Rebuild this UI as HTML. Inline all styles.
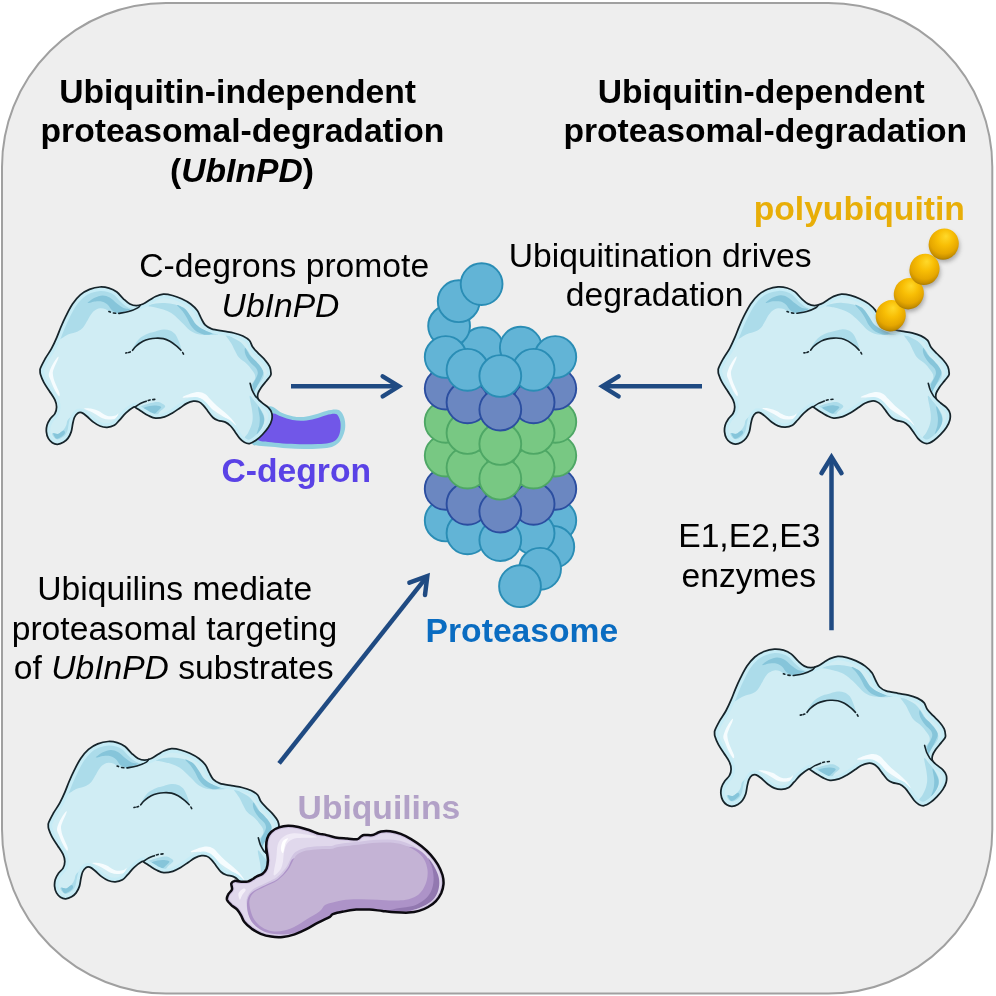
<!DOCTYPE html><html><head><meta charset="utf-8"><title>Graphical abstract</title>
<style>html,body{margin:0;padding:0;background:#fff;overflow:hidden;}svg{display:block;font-family:"Liberation Sans",sans-serif;font-size:33.65px;}</style></head><body>
<svg width="996" height="996" viewBox="0 0 996 996">
<defs><clipPath id="blobclip"><path d="M714.6,733.0C714.6,731.9 714.2,732.1 715.0,730.1C715.8,728.1 717.8,724.2 719.6,720.9C721.5,717.6 724.2,714.1 726.1,710.5C728.0,706.9 729.8,702.9 731.3,699.4C732.8,695.9 733.7,693.2 735.2,689.6C736.7,686.0 738.5,681.8 740.5,677.9C742.5,674.0 744.6,669.6 747.0,666.1C749.4,662.6 752.0,659.4 754.8,657.0C757.6,654.6 760.7,652.8 764.0,651.5C767.3,650.2 771.1,649.3 774.4,649.1C777.6,648.9 780.7,649.4 783.5,650.2C786.3,651.0 789.0,652.3 791.4,654.1C793.8,655.9 795.7,658.9 797.9,660.9C800.1,662.9 802.2,665.0 804.4,666.1C806.6,667.2 808.7,667.7 810.9,667.7C813.1,667.7 815.3,667.0 817.5,666.1C819.7,665.2 821.9,663.5 824.0,662.2C826.1,661.0 827.7,659.6 830.0,658.6C832.3,657.6 835.0,656.5 837.8,656.3C840.6,656.1 844.0,656.8 847.0,657.6C850.0,658.4 853.1,659.5 856.1,660.9C859.1,662.3 862.6,664.1 865.2,666.1C867.8,668.1 870.0,670.2 871.8,672.6C873.5,675.0 874.4,678.1 875.7,680.5C877.0,682.9 877.9,685.3 879.6,687.0C881.3,688.7 883.1,689.9 886.1,690.9C889.1,691.9 894.2,692.6 897.9,693.3C901.6,694.0 905.0,694.3 908.3,695.1C911.5,695.9 914.8,696.9 917.4,698.1C920.0,699.4 922.4,700.8 924.0,702.6C925.6,704.5 925.7,707.0 927.2,709.2C928.7,711.4 931.0,713.5 933.1,715.7C935.2,717.9 937.8,720.0 939.6,722.2C941.5,724.4 943.2,726.6 944.2,728.8C945.2,731.0 945.4,733.8 945.5,735.3C945.6,736.8 945.7,736.7 944.9,738.0C944.1,739.3 942.4,741.2 940.9,743.1C939.4,745.0 937.1,747.5 935.7,749.6C934.3,751.7 933.0,753.6 932.5,755.5C932.0,757.4 931.8,759.1 932.5,760.7C933.2,762.3 935.3,763.7 937.0,765.2C938.7,766.7 941.4,768.2 942.9,769.8C944.4,771.4 945.7,772.9 946.2,775.0C946.8,777.1 946.8,779.8 946.2,782.2C945.7,784.6 944.4,787.0 942.9,789.4C941.4,791.8 939.1,794.4 937.0,796.6C934.9,798.8 932.7,800.9 930.5,802.4C928.3,803.9 926.0,805.4 924.0,805.7C922.0,806.0 920.4,805.3 918.8,804.4C917.2,803.5 915.7,802.2 914.2,800.5C912.7,798.8 911.1,796.1 909.6,794.0C908.1,791.9 906.7,789.7 905.1,788.1C903.5,786.5 901.9,785.1 899.8,784.2C897.7,783.3 894.8,783.4 892.7,782.6C890.6,781.8 889.1,781.2 887.4,779.6C885.6,778.0 883.8,775.2 882.2,773.1C880.6,771.0 879.1,768.7 877.6,767.2C876.1,765.7 874.7,764.5 873.1,763.9C871.5,763.2 869.9,763.0 867.9,763.3C865.9,763.6 863.5,764.4 861.3,765.5C859.1,766.6 857.2,768.2 854.8,769.8C852.4,771.4 849.6,773.5 847.0,775.0C844.4,776.5 841.9,778.0 839.1,778.9C836.3,779.8 832.7,780.5 830.0,780.3C827.3,780.1 825.0,778.7 822.7,777.6C820.4,776.5 818.3,775.0 816.2,773.7C814.1,772.4 811.6,770.5 810.3,769.8C809.0,769.0 809.9,768.3 808.3,769.2C806.7,770.1 802.9,772.8 800.5,775.0C798.1,777.2 796.0,780.1 794.0,782.2C792.0,784.3 790.9,786.2 788.8,787.4C786.7,788.6 784.0,789.3 781.6,789.4C779.2,789.5 776.7,789.0 774.4,788.1C772.1,787.2 770.1,785.8 767.9,784.2C765.7,782.6 763.3,779.9 761.3,778.3C759.3,776.7 757.6,775.3 756.1,774.8C754.6,774.3 753.4,774.5 752.2,775.3C751.0,776.1 749.7,777.8 748.9,779.6C748.1,781.4 747.7,783.7 747.2,786.1C746.7,788.5 746.5,791.6 745.7,794.0C744.9,796.4 743.7,798.8 742.4,800.5C741.1,802.2 739.6,803.4 737.9,804.4C736.2,805.4 733.9,806.3 732.0,806.4C730.1,806.5 728.3,805.8 726.8,804.8C725.3,803.8 723.8,802.3 722.8,800.5C721.8,798.7 721.1,796.2 720.9,794.0C720.7,791.8 720.9,789.6 721.5,787.4C722.1,785.2 723.5,782.8 724.8,780.9C726.1,779.0 728.3,777.7 729.4,775.7C730.5,773.8 731.1,771.5 731.1,769.2C731.1,766.9 730.6,764.6 729.4,762.0C728.2,759.4 726.0,756.4 724.1,753.5C722.2,750.6 719.8,747.2 718.3,744.4C716.8,741.6 715.6,738.4 715.0,736.5C714.4,734.6 714.6,734.1 714.6,733.0Z"/></clipPath><g id="blob"><path d="M714.6,733.0C714.6,731.9 714.2,732.1 715.0,730.1C715.8,728.1 717.8,724.2 719.6,720.9C721.5,717.6 724.2,714.1 726.1,710.5C728.0,706.9 729.8,702.9 731.3,699.4C732.8,695.9 733.7,693.2 735.2,689.6C736.7,686.0 738.5,681.8 740.5,677.9C742.5,674.0 744.6,669.6 747.0,666.1C749.4,662.6 752.0,659.4 754.8,657.0C757.6,654.6 760.7,652.8 764.0,651.5C767.3,650.2 771.1,649.3 774.4,649.1C777.6,648.9 780.7,649.4 783.5,650.2C786.3,651.0 789.0,652.3 791.4,654.1C793.8,655.9 795.7,658.9 797.9,660.9C800.1,662.9 802.2,665.0 804.4,666.1C806.6,667.2 808.7,667.7 810.9,667.7C813.1,667.7 815.3,667.0 817.5,666.1C819.7,665.2 821.9,663.5 824.0,662.2C826.1,661.0 827.7,659.6 830.0,658.6C832.3,657.6 835.0,656.5 837.8,656.3C840.6,656.1 844.0,656.8 847.0,657.6C850.0,658.4 853.1,659.5 856.1,660.9C859.1,662.3 862.6,664.1 865.2,666.1C867.8,668.1 870.0,670.2 871.8,672.6C873.5,675.0 874.4,678.1 875.7,680.5C877.0,682.9 877.9,685.3 879.6,687.0C881.3,688.7 883.1,689.9 886.1,690.9C889.1,691.9 894.2,692.6 897.9,693.3C901.6,694.0 905.0,694.3 908.3,695.1C911.5,695.9 914.8,696.9 917.4,698.1C920.0,699.4 922.4,700.8 924.0,702.6C925.6,704.5 925.7,707.0 927.2,709.2C928.7,711.4 931.0,713.5 933.1,715.7C935.2,717.9 937.8,720.0 939.6,722.2C941.5,724.4 943.2,726.6 944.2,728.8C945.2,731.0 945.4,733.8 945.5,735.3C945.6,736.8 945.7,736.7 944.9,738.0C944.1,739.3 942.4,741.2 940.9,743.1C939.4,745.0 937.1,747.5 935.7,749.6C934.3,751.7 933.0,753.6 932.5,755.5C932.0,757.4 931.8,759.1 932.5,760.7C933.2,762.3 935.3,763.7 937.0,765.2C938.7,766.7 941.4,768.2 942.9,769.8C944.4,771.4 945.7,772.9 946.2,775.0C946.8,777.1 946.8,779.8 946.2,782.2C945.7,784.6 944.4,787.0 942.9,789.4C941.4,791.8 939.1,794.4 937.0,796.6C934.9,798.8 932.7,800.9 930.5,802.4C928.3,803.9 926.0,805.4 924.0,805.7C922.0,806.0 920.4,805.3 918.8,804.4C917.2,803.5 915.7,802.2 914.2,800.5C912.7,798.8 911.1,796.1 909.6,794.0C908.1,791.9 906.7,789.7 905.1,788.1C903.5,786.5 901.9,785.1 899.8,784.2C897.7,783.3 894.8,783.4 892.7,782.6C890.6,781.8 889.1,781.2 887.4,779.6C885.6,778.0 883.8,775.2 882.2,773.1C880.6,771.0 879.1,768.7 877.6,767.2C876.1,765.7 874.7,764.5 873.1,763.9C871.5,763.2 869.9,763.0 867.9,763.3C865.9,763.6 863.5,764.4 861.3,765.5C859.1,766.6 857.2,768.2 854.8,769.8C852.4,771.4 849.6,773.5 847.0,775.0C844.4,776.5 841.9,778.0 839.1,778.9C836.3,779.8 832.7,780.5 830.0,780.3C827.3,780.1 825.0,778.7 822.7,777.6C820.4,776.5 818.3,775.0 816.2,773.7C814.1,772.4 811.6,770.5 810.3,769.8C809.0,769.0 809.9,768.3 808.3,769.2C806.7,770.1 802.9,772.8 800.5,775.0C798.1,777.2 796.0,780.1 794.0,782.2C792.0,784.3 790.9,786.2 788.8,787.4C786.7,788.6 784.0,789.3 781.6,789.4C779.2,789.5 776.7,789.0 774.4,788.1C772.1,787.2 770.1,785.8 767.9,784.2C765.7,782.6 763.3,779.9 761.3,778.3C759.3,776.7 757.6,775.3 756.1,774.8C754.6,774.3 753.4,774.5 752.2,775.3C751.0,776.1 749.7,777.8 748.9,779.6C748.1,781.4 747.7,783.7 747.2,786.1C746.7,788.5 746.5,791.6 745.7,794.0C744.9,796.4 743.7,798.8 742.4,800.5C741.1,802.2 739.6,803.4 737.9,804.4C736.2,805.4 733.9,806.3 732.0,806.4C730.1,806.5 728.3,805.8 726.8,804.8C725.3,803.8 723.8,802.3 722.8,800.5C721.8,798.7 721.1,796.2 720.9,794.0C720.7,791.8 720.9,789.6 721.5,787.4C722.1,785.2 723.5,782.8 724.8,780.9C726.1,779.0 728.3,777.7 729.4,775.7C730.5,773.8 731.1,771.5 731.1,769.2C731.1,766.9 730.6,764.6 729.4,762.0C728.2,759.4 726.0,756.4 724.1,753.5C722.2,750.6 719.8,747.2 718.3,744.4C716.8,741.6 715.6,738.4 715.0,736.5C714.4,734.6 714.6,734.1 714.6,733.0Z" fill="#d0edf4"/><g clip-path="url(#blobclip)"><path d="M733.3,701.3C732.3,700.2 735.7,693.5 737.2,689.6C738.7,685.7 740.5,681.7 742.4,677.9C744.4,674.0 746.6,670.1 748.9,666.8C751.3,663.4 754.1,659.9 756.8,657.6C759.5,655.3 762.2,653.9 765.3,652.8C768.3,651.6 772.0,650.9 775.1,650.7C778.1,650.5 780.8,650.9 783.5,651.7C786.3,652.6 789.0,653.9 791.4,655.7C793.8,657.4 795.7,660.4 797.9,662.4C800.1,664.5 802.2,666.5 804.4,667.7C806.6,668.8 809.2,669.2 810.9,669.2C812.7,669.3 814.6,667.9 814.9,668.1C815.1,668.2 814.2,669.3 812.2,670.3C810.3,671.3 806.3,673.2 803.1,674.2C800.0,675.2 796.4,676.0 793.3,676.0C790.3,676.0 787.0,675.0 784.8,674.2C782.7,673.4 782.0,672.0 780.3,671.3C778.5,670.7 776.2,670.2 774.4,670.4C772.5,670.6 770.7,671.6 769.2,672.6C767.7,673.7 766.6,675.0 765.3,676.8C764.0,678.7 762.7,681.5 761.3,683.7C760.0,685.9 759.0,688.2 757.4,689.9C755.9,691.5 754.6,692.4 752.2,693.5C749.8,694.6 746.2,695.1 743.1,696.4C739.9,697.7 734.3,702.5 733.3,701.3Z" fill="#acdcea"/><path d="M762.0,665.1C761.9,664.5 766.7,661.1 769.2,659.8C771.7,658.6 774.5,657.5 777.0,657.5C779.5,657.4 781.8,658.3 784.2,659.6C786.6,660.9 789.1,663.7 791.4,665.5C793.7,667.2 795.7,669.0 797.9,670.0C800.1,671.0 804.2,670.7 804.4,671.3C804.6,671.9 801.0,673.1 799.2,673.7C797.3,674.3 795.4,675.2 793.3,675.0C791.3,674.8 788.6,674.0 786.8,672.6C784.9,671.3 783.9,668.2 782.2,666.8C780.6,665.3 779.1,664.3 777.0,663.8C774.9,663.2 772.3,663.3 769.8,663.5C767.3,663.7 762.1,665.7 762.0,665.1Z" fill="#86c5da"/><path d="M822.2,668.1C822.2,667.4 827.2,666.1 830.0,665.6C832.8,665.1 835.9,664.9 839.1,665.1C842.4,665.2 846.4,665.7 849.6,666.6C852.7,667.6 855.6,668.8 858.1,670.7C860.5,672.6 862.3,675.6 864.2,678.1C866.0,680.7 867.2,683.8 869.2,685.9C871.1,688.1 872.9,689.7 875.7,691.2C878.5,692.6 883.3,693.9 886.1,694.8C889.0,695.7 893.3,696.0 892.7,696.4C892.0,696.8 885.7,697.2 882.2,697.2C878.7,697.1 874.8,697.0 871.8,696.1C868.7,695.3 866.3,693.9 863.9,692.2C861.5,690.5 859.4,687.6 857.4,685.7C855.5,683.7 854.1,682.2 852.2,680.5C850.2,678.7 848.1,676.7 845.7,675.2C843.3,673.8 840.4,672.5 837.8,671.6C835.2,670.6 832.6,670.1 830.0,669.5C827.4,668.9 822.2,668.7 822.2,668.1Z" fill="#acdcea"/><path d="M851.5,667.1C852.0,666.8 857.4,669.1 859.8,671.1C862.1,673.0 863.7,676.3 865.5,678.9C867.3,681.5 868.5,684.6 870.7,686.7C872.9,688.9 875.8,690.6 878.6,691.9C881.3,693.3 886.6,694.0 887.0,694.8C887.5,695.6 883.7,697.0 881.2,696.9C878.7,696.8 874.6,695.6 872.0,694.0C869.4,692.5 867.3,690.1 865.5,687.8C863.7,685.4 862.8,682.4 861.3,679.9C859.9,677.5 858.5,675.3 856.9,673.2C855.3,671.0 851.1,667.5 851.5,667.1Z" fill="#86c5da"/><path d="M806.4,713.1C806.3,712.6 808.8,707.5 810.3,705.3C811.8,703.0 813.4,701.0 815.5,699.4C817.6,697.8 820.3,696.5 822.7,695.5C825.1,694.5 827.5,694.2 830.0,693.5C832.5,692.9 835.4,691.7 837.8,691.6C840.2,691.4 842.4,691.7 844.4,692.5C846.3,693.2 848.1,694.4 849.6,696.1C851.0,697.8 852.0,700.1 853.0,702.7C854.0,705.2 855.9,710.3 855.6,711.1C855.2,712.0 852.8,709.2 850.9,707.9C849.0,706.6 846.5,704.5 844.4,703.3C842.2,702.1 840.2,701.2 837.8,700.7C835.4,700.2 832.5,700.2 830.0,700.3C827.5,700.4 824.9,700.8 822.7,701.3C820.5,701.9 818.8,702.6 816.8,703.7C814.9,704.8 812.7,706.6 810.9,708.1C809.2,709.7 806.5,713.6 806.4,713.1Z" fill="#acdcea"/><path d="M899.8,696.4C900.2,695.6 905.7,698.9 908.3,700.3C910.9,701.7 913.2,702.6 915.5,704.6C917.8,706.6 920.0,709.7 922.0,712.4C924.0,715.1 925.2,718.0 927.2,720.7C929.2,723.4 932.1,726.5 933.8,728.5C935.5,730.5 936.8,731.4 937.5,733.0C938.2,734.6 938.5,736.3 938.2,738.0C938.0,739.7 936.9,741.3 936.0,743.0C935.1,744.7 933.9,746.3 933.0,748.0C932.1,749.7 931.0,751.3 930.5,753.0C930.0,754.7 930.4,758.3 929.8,758.1C929.2,757.9 927.8,753.8 927.0,752.0C926.2,750.2 925.0,748.7 925.0,747.5C925.0,746.3 926.2,746.1 927.0,745.0C927.8,743.9 929.1,742.4 929.5,741.0C929.9,739.6 929.9,738.1 929.3,736.5C928.7,734.9 927.3,733.2 926.0,731.5C924.7,729.8 923.5,728.0 921.4,726.0C919.3,724.0 915.5,721.8 913.5,719.6C911.5,717.5 910.9,715.5 909.6,713.1C908.3,710.7 907.3,708.1 905.7,705.3C904.1,702.5 899.4,697.2 899.8,696.4Z" fill="#acdcea"/><path d="M919.8,710.2C920.6,710.6 922.4,714.8 924.2,717.0C926.0,719.2 928.8,721.3 930.8,723.5C932.8,725.7 934.9,728.0 936.0,730.0C937.1,732.0 937.9,733.2 937.7,735.2C937.6,737.2 936.2,739.3 935.1,741.7C934.0,744.1 932.1,747.2 931.2,749.6C930.3,752.0 930.3,755.7 929.8,756.1C929.2,756.5 928.3,753.7 927.9,752.2C927.5,750.7 926.8,749.0 927.2,747.0C927.6,745.0 929.6,742.4 930.5,740.4C931.4,738.4 932.2,736.9 932.3,735.2C932.3,733.6 932.0,732.2 930.8,730.5C929.6,728.8 926.9,726.8 925.3,725.0C923.7,723.2 922.4,721.2 921.4,719.5C920.4,717.8 919.7,716.0 919.4,714.5C919.1,713.0 919.0,709.8 919.8,710.2Z" fill="#86c5da"/><path d="M924.2,758.1C924.8,756.9 927.7,761.6 929.5,763.7C931.2,765.7 933.2,768.0 934.7,770.5C936.2,772.9 938.0,775.7 938.6,778.3C939.2,780.9 938.9,783.5 938.1,786.1C937.2,788.8 935.2,791.8 933.4,794.2C931.5,796.7 928.8,799.2 926.8,800.7C924.8,802.3 922.7,803.4 921.4,803.4C920.0,803.3 918.6,801.8 918.8,800.5C918.9,799.1 921.2,797.4 922.4,795.3C923.6,793.1 925.1,790.0 925.9,787.4C926.7,784.8 927.2,782.4 927.2,779.6C927.3,776.8 926.8,774.1 926.3,770.5C925.8,766.9 923.7,759.2 924.2,758.1Z" fill="#acdcea"/><path d="M932.6,768.6C933.1,768.0 936.0,773.4 937.0,775.7C938.1,777.9 938.8,779.9 938.7,782.2C938.7,784.5 937.9,786.9 936.6,789.3C935.4,791.6 931.8,796.6 931.3,796.3C930.8,796.0 933.3,790.2 933.8,787.4C934.2,784.6 934.4,782.7 934.2,779.6C934.0,776.5 932.1,769.3 932.6,768.6Z" fill="#86c5da"/><path d="M810.3,770.2C810.5,769.2 815.0,768.4 817.5,767.6C820.0,766.8 822.9,765.8 825.3,765.2C827.7,764.7 830.1,764.2 831.8,764.2C833.6,764.2 834.4,764.5 835.7,765.2C837.0,766.0 839.9,767.2 839.7,768.6C839.4,770.0 836.0,772.1 834.4,773.7C832.8,775.4 832.0,778.1 830.0,778.6C828.0,779.1 825.0,777.6 822.7,776.7C820.4,775.9 818.2,774.7 816.2,773.6C814.1,772.5 810.1,771.2 810.3,770.2Z" fill="#acdcea"/><path d="M817.5,770.7C817.6,769.6 821.8,768.6 824.0,768.1C826.2,767.6 828.6,767.4 830.5,767.6C832.5,767.8 835.5,768.1 835.7,769.2C836.0,770.2 833.0,772.6 831.8,773.7C830.6,774.9 830.0,775.7 828.6,775.9C827.2,776.1 825.2,775.8 823.3,774.9C821.5,774.0 817.4,771.9 817.5,770.7Z" fill="#86c5da"/><path d="M742.0,782.5C742.9,781.1 745.4,778.5 745.9,779.3C746.4,780.2 745.6,785.0 745.0,787.4C744.4,789.9 743.7,792.2 742.4,794.2C741.1,796.2 739.0,798.2 737.2,799.4C735.4,800.7 733.2,801.7 731.6,801.5C730.0,801.4 728.5,799.4 727.7,798.4C726.9,797.3 726.1,795.7 726.9,795.3C727.7,794.8 730.8,796.5 732.6,795.9C734.5,795.4 736.5,793.4 737.9,792.0C739.2,790.6 740.0,789.0 740.7,787.4C741.4,785.8 741.2,783.8 742.0,782.5Z" fill="#acdcea"/><path d="M727.7,795.3C728.0,794.5 730.9,796.5 732.6,796.0C734.3,795.6 736.7,792.8 737.9,792.7C739.0,792.5 739.8,794.2 739.4,795.3C739.0,796.3 736.9,798.3 735.5,799.2C734.1,800.1 732.1,801.4 730.8,800.7C729.5,800.1 727.4,796.0 727.7,795.3Z" fill="#86c5da"/><path d="M732.4,719.0C731.6,719.6 729.4,722.7 728.1,724.8C726.8,726.9 725.6,729.4 724.8,731.4C724.0,733.4 723.3,735.3 723.3,737.0C723.3,738.7 723.9,739.4 724.8,741.7C725.7,744.0 727.3,748.2 728.7,750.9C730.1,753.6 732.4,757.5 733.3,758.1C734.2,758.8 734.5,757.1 733.9,754.8C733.2,752.5 730.5,747.4 729.4,744.4C728.3,741.4 727.6,738.7 727.4,736.5C727.2,734.3 727.2,734.0 728.1,731.4C729.0,728.8 731.9,723.0 732.6,720.9C733.3,718.8 733.1,718.4 732.4,719.0Z" fill="#f6fcfe"/><path d="M758.7,770.5C759.0,770.1 762.9,770.3 765.3,770.7C767.7,771.2 770.9,772.1 773.1,773.1C775.3,774.0 776.6,775.5 778.3,776.3C780.1,777.2 781.6,778.1 783.5,778.3C785.5,778.5 788.5,778.1 790.1,777.6C791.6,777.2 792.9,775.0 792.9,775.4C793.0,775.9 791.9,779.3 790.3,780.4C788.8,781.4 785.8,781.7 783.5,781.7C781.3,781.7 779.2,781.3 777.0,780.4C774.8,779.5 772.7,777.7 770.5,776.5C768.3,775.2 765.9,774.1 764.0,773.1C762.0,772.1 758.5,770.9 758.7,770.5Z" fill="#f6fcfe"/><path d="M857.1,759.5C856.9,758.8 862.6,756.5 865.2,755.6C867.9,754.7 870.7,754.1 873.1,754.1C875.5,754.2 877.6,754.9 879.6,756.1C881.6,757.3 882.9,759.4 884.8,761.3C886.8,763.3 889.0,765.7 891.3,767.9C893.7,770.0 896.7,772.2 899.2,774.4C901.6,776.6 904.0,778.7 906.0,780.9C907.9,783.1 911.1,787.5 910.7,787.7C910.2,787.9 905.7,784.0 903.1,782.2C900.5,780.4 897.9,778.7 895.3,777.0C892.7,775.2 889.8,773.7 887.4,771.8C885.0,769.9 883.1,767.3 880.9,765.5C878.7,763.7 876.8,761.8 874.4,760.8C872.0,759.8 869.4,759.7 866.5,759.5C863.7,759.3 857.4,760.2 857.1,759.5Z" fill="#f6fcfe"/><path d="M714.6,733.0C714.6,731.9 714.2,732.1 715.0,730.1C715.8,728.1 717.8,724.2 719.6,720.9C721.5,717.6 724.2,714.1 726.1,710.5C728.0,706.9 729.8,702.9 731.3,699.4C732.8,695.9 733.7,693.2 735.2,689.6C736.7,686.0 738.5,681.8 740.5,677.9C742.5,674.0 744.6,669.6 747.0,666.1C749.4,662.6 752.0,659.4 754.8,657.0C757.6,654.6 760.7,652.8 764.0,651.5C767.3,650.2 771.1,649.3 774.4,649.1C777.6,648.9 780.7,649.4 783.5,650.2C786.3,651.0 789.0,652.3 791.4,654.1C793.8,655.9 795.7,658.9 797.9,660.9C800.1,662.9 802.2,665.0 804.4,666.1C806.6,667.2 808.7,667.7 810.9,667.7C813.1,667.7 815.3,667.0 817.5,666.1C819.7,665.2 821.9,663.5 824.0,662.2C826.1,661.0 827.7,659.6 830.0,658.6C832.3,657.6 835.0,656.5 837.8,656.3C840.6,656.1 844.0,656.8 847.0,657.6C850.0,658.4 853.1,659.5 856.1,660.9C859.1,662.3 862.6,664.1 865.2,666.1C867.8,668.1 870.0,670.2 871.8,672.6C873.5,675.0 874.4,678.1 875.7,680.5C877.0,682.9 877.9,685.3 879.6,687.0C881.3,688.7 883.1,689.9 886.1,690.9C889.1,691.9 894.2,692.6 897.9,693.3C901.6,694.0 905.0,694.3 908.3,695.1C911.5,695.9 914.8,696.9 917.4,698.1C920.0,699.4 922.4,700.8 924.0,702.6C925.6,704.5 925.7,707.0 927.2,709.2C928.7,711.4 931.0,713.5 933.1,715.7C935.2,717.9 937.8,720.0 939.6,722.2C941.5,724.4 943.2,726.6 944.2,728.8C945.2,731.0 945.4,733.8 945.5,735.3C945.6,736.8 945.7,736.7 944.9,738.0C944.1,739.3 942.4,741.2 940.9,743.1C939.4,745.0 937.1,747.5 935.7,749.6C934.3,751.7 933.0,753.6 932.5,755.5C932.0,757.4 931.8,759.1 932.5,760.7C933.2,762.3 935.3,763.7 937.0,765.2C938.7,766.7 941.4,768.2 942.9,769.8C944.4,771.4 945.7,772.9 946.2,775.0C946.8,777.1 946.8,779.8 946.2,782.2C945.7,784.6 944.4,787.0 942.9,789.4C941.4,791.8 939.1,794.4 937.0,796.6C934.9,798.8 932.7,800.9 930.5,802.4C928.3,803.9 926.0,805.4 924.0,805.7C922.0,806.0 920.4,805.3 918.8,804.4C917.2,803.5 915.7,802.2 914.2,800.5C912.7,798.8 911.1,796.1 909.6,794.0C908.1,791.9 906.7,789.7 905.1,788.1C903.5,786.5 901.9,785.1 899.8,784.2C897.7,783.3 894.8,783.4 892.7,782.6C890.6,781.8 889.1,781.2 887.4,779.6C885.6,778.0 883.8,775.2 882.2,773.1C880.6,771.0 879.1,768.7 877.6,767.2C876.1,765.7 874.7,764.5 873.1,763.9C871.5,763.2 869.9,763.0 867.9,763.3C865.9,763.6 863.5,764.4 861.3,765.5C859.1,766.6 857.2,768.2 854.8,769.8C852.4,771.4 849.6,773.5 847.0,775.0C844.4,776.5 841.9,778.0 839.1,778.9C836.3,779.8 832.7,780.5 830.0,780.3C827.3,780.1 825.0,778.7 822.7,777.6C820.4,776.5 818.3,775.0 816.2,773.7C814.1,772.4 811.6,770.5 810.3,769.8C809.0,769.0 809.9,768.3 808.3,769.2C806.7,770.1 802.9,772.8 800.5,775.0C798.1,777.2 796.0,780.1 794.0,782.2C792.0,784.3 790.9,786.2 788.8,787.4C786.7,788.6 784.0,789.3 781.6,789.4C779.2,789.5 776.7,789.0 774.4,788.1C772.1,787.2 770.1,785.8 767.9,784.2C765.7,782.6 763.3,779.9 761.3,778.3C759.3,776.7 757.6,775.3 756.1,774.8C754.6,774.3 753.4,774.5 752.2,775.3C751.0,776.1 749.7,777.8 748.9,779.6C748.1,781.4 747.7,783.7 747.2,786.1C746.7,788.5 746.5,791.6 745.7,794.0C744.9,796.4 743.7,798.8 742.4,800.5C741.1,802.2 739.6,803.4 737.9,804.4C736.2,805.4 733.9,806.3 732.0,806.4C730.1,806.5 728.3,805.8 726.8,804.8C725.3,803.8 723.8,802.3 722.8,800.5C721.8,798.7 721.1,796.2 720.9,794.0C720.7,791.8 720.9,789.6 721.5,787.4C722.1,785.2 723.5,782.8 724.8,780.9C726.1,779.0 728.3,777.7 729.4,775.7C730.5,773.8 731.1,771.5 731.1,769.2C731.1,766.9 730.6,764.6 729.4,762.0C728.2,759.4 726.0,756.4 724.1,753.5C722.2,750.6 719.8,747.2 718.3,744.4C716.8,741.6 715.6,738.4 715.0,736.5C714.4,734.6 714.6,734.1 714.6,733.0Z" fill="none" stroke="#c6ecf6" stroke-width="8"/></g><path d="M714.6,733.0C714.6,731.9 714.2,732.1 715.0,730.1C715.8,728.1 717.8,724.2 719.6,720.9C721.5,717.6 724.2,714.1 726.1,710.5C728.0,706.9 729.8,702.9 731.3,699.4C732.8,695.9 733.7,693.2 735.2,689.6C736.7,686.0 738.5,681.8 740.5,677.9C742.5,674.0 744.6,669.6 747.0,666.1C749.4,662.6 752.0,659.4 754.8,657.0C757.6,654.6 760.7,652.8 764.0,651.5C767.3,650.2 771.1,649.3 774.4,649.1C777.6,648.9 780.7,649.4 783.5,650.2C786.3,651.0 789.0,652.3 791.4,654.1C793.8,655.9 795.7,658.9 797.9,660.9C800.1,662.9 802.2,665.0 804.4,666.1C806.6,667.2 808.7,667.7 810.9,667.7C813.1,667.7 815.3,667.0 817.5,666.1C819.7,665.2 821.9,663.5 824.0,662.2C826.1,661.0 827.7,659.6 830.0,658.6C832.3,657.6 835.0,656.5 837.8,656.3C840.6,656.1 844.0,656.8 847.0,657.6C850.0,658.4 853.1,659.5 856.1,660.9C859.1,662.3 862.6,664.1 865.2,666.1C867.8,668.1 870.0,670.2 871.8,672.6C873.5,675.0 874.4,678.1 875.7,680.5C877.0,682.9 877.9,685.3 879.6,687.0C881.3,688.7 883.1,689.9 886.1,690.9C889.1,691.9 894.2,692.6 897.9,693.3C901.6,694.0 905.0,694.3 908.3,695.1C911.5,695.9 914.8,696.9 917.4,698.1C920.0,699.4 922.4,700.8 924.0,702.6C925.6,704.5 925.7,707.0 927.2,709.2C928.7,711.4 931.0,713.5 933.1,715.7C935.2,717.9 937.8,720.0 939.6,722.2C941.5,724.4 943.2,726.6 944.2,728.8C945.2,731.0 945.4,733.8 945.5,735.3C945.6,736.8 945.7,736.7 944.9,738.0C944.1,739.3 942.4,741.2 940.9,743.1C939.4,745.0 937.1,747.5 935.7,749.6C934.3,751.7 933.0,753.6 932.5,755.5C932.0,757.4 931.8,759.1 932.5,760.7C933.2,762.3 935.3,763.7 937.0,765.2C938.7,766.7 941.4,768.2 942.9,769.8C944.4,771.4 945.7,772.9 946.2,775.0C946.8,777.1 946.8,779.8 946.2,782.2C945.7,784.6 944.4,787.0 942.9,789.4C941.4,791.8 939.1,794.4 937.0,796.6C934.9,798.8 932.7,800.9 930.5,802.4C928.3,803.9 926.0,805.4 924.0,805.7C922.0,806.0 920.4,805.3 918.8,804.4C917.2,803.5 915.7,802.2 914.2,800.5C912.7,798.8 911.1,796.1 909.6,794.0C908.1,791.9 906.7,789.7 905.1,788.1C903.5,786.5 901.9,785.1 899.8,784.2C897.7,783.3 894.8,783.4 892.7,782.6C890.6,781.8 889.1,781.2 887.4,779.6C885.6,778.0 883.8,775.2 882.2,773.1C880.6,771.0 879.1,768.7 877.6,767.2C876.1,765.7 874.7,764.5 873.1,763.9C871.5,763.2 869.9,763.0 867.9,763.3C865.9,763.6 863.5,764.4 861.3,765.5C859.1,766.6 857.2,768.2 854.8,769.8C852.4,771.4 849.6,773.5 847.0,775.0C844.4,776.5 841.9,778.0 839.1,778.9C836.3,779.8 832.7,780.5 830.0,780.3C827.3,780.1 825.0,778.7 822.7,777.6C820.4,776.5 818.3,775.0 816.2,773.7C814.1,772.4 811.6,770.5 810.3,769.8C809.0,769.0 809.9,768.3 808.3,769.2C806.7,770.1 802.9,772.8 800.5,775.0C798.1,777.2 796.0,780.1 794.0,782.2C792.0,784.3 790.9,786.2 788.8,787.4C786.7,788.6 784.0,789.3 781.6,789.4C779.2,789.5 776.7,789.0 774.4,788.1C772.1,787.2 770.1,785.8 767.9,784.2C765.7,782.6 763.3,779.9 761.3,778.3C759.3,776.7 757.6,775.3 756.1,774.8C754.6,774.3 753.4,774.5 752.2,775.3C751.0,776.1 749.7,777.8 748.9,779.6C748.1,781.4 747.7,783.7 747.2,786.1C746.7,788.5 746.5,791.6 745.7,794.0C744.9,796.4 743.7,798.8 742.4,800.5C741.1,802.2 739.6,803.4 737.9,804.4C736.2,805.4 733.9,806.3 732.0,806.4C730.1,806.5 728.3,805.8 726.8,804.8C725.3,803.8 723.8,802.3 722.8,800.5C721.8,798.7 721.1,796.2 720.9,794.0C720.7,791.8 720.9,789.6 721.5,787.4C722.1,785.2 723.5,782.8 724.8,780.9C726.1,779.0 728.3,777.7 729.4,775.7C730.5,773.8 731.1,771.5 731.1,769.2C731.1,766.9 730.6,764.6 729.4,762.0C728.2,759.4 726.0,756.4 724.1,753.5C722.2,750.6 719.8,747.2 718.3,744.4C716.8,741.6 715.6,738.4 715.0,736.5C714.4,734.6 714.6,734.1 714.6,733.0Z" fill="none" stroke="#16242a" stroke-width="1.75" stroke-linejoin="round"/><path d="M807.0,712.4C807.6,711.6 809.1,709.4 810.9,707.9C812.6,706.4 815.3,704.4 817.5,703.3C819.7,702.2 821.9,701.6 824.0,701.1C826.1,700.6 827.7,700.4 830.0,700.3C832.3,700.2 835.4,700.2 837.8,700.7C840.2,701.2 842.2,702.1 844.4,703.3C846.6,704.5 849.0,706.4 850.9,707.9C852.8,709.4 854.7,711.6 855.5,712.4" fill="none" stroke="#16242a" stroke-width="1.6" stroke-linecap="round"/><path d="M800.3,715.1l1.2,-0.2M803.2,714.6l1.6,-0.6M857.2,714.6l0.8,1.6" fill="none" stroke="#16242a" stroke-width="1.6" stroke-linecap="round"/><path d="M814.9,667.0C814.4,667.5 814.2,668.9 812.2,670.0C810.3,671.1 806.3,672.8 803.1,673.7C800.0,674.6 795.0,675.2 793.3,675.5" fill="none" stroke="#16242a" stroke-width="1.6" stroke-linecap="round"/><path d="M784.8,674.2l-1.4,-0.5M790.1,675.4l-2.2,-0.3" fill="none" stroke="#16242a" stroke-width="1.6" stroke-linecap="round"/><path d="M809.4,769.2C810.3,768.6 813.0,766.6 814.9,765.6C816.8,764.7 819.8,763.7 820.7,763.3" fill="none" stroke="#16242a" stroke-width="1.6" stroke-linecap="round"/><path d="M822.7,762.5l1.8,-0.5M827.3,761.7l2,-0.2" fill="none" stroke="#16242a" stroke-width="1.6" stroke-linecap="round"/><path d="M924.6,745.4C925.0,746.5 925.7,750.1 926.6,752.2C927.5,754.3 928.9,756.6 929.8,758.1C930.8,759.5 932.0,760.3 932.5,760.8" fill="none" stroke="#16242a" stroke-width="1.6" stroke-linecap="round"/></g><radialGradient id="bg" cx="0.44" cy="0.36" r="0.66" fx="0.46" fy="0.24"><stop offset="0" stop-color="#ffd92a"/><stop offset="0.40" stop-color="#f8be05"/><stop offset="0.74" stop-color="#e6a700"/><stop offset="0.90" stop-color="#c89000"/><stop offset="1" stop-color="#a87a00"/></radialGradient><filter id="bsh" x="-40%" y="-40%" width="200%" height="200%"><feGaussianBlur stdDeviation="2.2"/></filter></defs>
<rect x="2" y="3" width="990.3" height="990.5" rx="164" ry="164" fill="#eeeeee" stroke="#a0a0a0" stroke-width="2"/>
<g style="opacity:0.999">
<text x="237.6" y="103" text-anchor="middle" font-weight="bold" fill="#000" >Ubiquitin-independent</text>
<text x="242.4" y="142.4" text-anchor="middle" font-weight="bold" fill="#000" >proteasomal-degradation</text>
<text x="242" y="181.8" text-anchor="middle" font-weight="bold" fill="#000" >(<tspan font-style="italic">UbInPD</tspan>)</text>
<text x="761.3" y="102.8" text-anchor="middle" font-weight="bold" fill="#000" >Ubiquitin-dependent</text>
<text x="765.3" y="142.2" text-anchor="middle" font-weight="bold" fill="#000" >proteasomal-degradation</text>
<text x="284.2" y="277" text-anchor="middle" font-weight="normal" fill="#000" >C-degrons promote</text>
<text x="280.5" y="316.8" text-anchor="middle" font-weight="normal" fill="#000" font-style="italic">UbInPD</text>
<text x="660.2" y="266.6" text-anchor="middle" font-weight="normal" fill="#000" >Ubiquitination drives</text>
<text x="654.6" y="306.2" text-anchor="middle" font-weight="normal" fill="#000" >degradation</text>
<text x="174.7" y="600.3" text-anchor="middle" font-weight="normal" fill="#000" >Ubiquilins mediate</text>
<text x="174.4" y="639.7" text-anchor="middle" font-weight="normal" fill="#000" >proteasomal targeting</text>
<text x="173.6" y="679.3" text-anchor="middle" font-weight="normal" fill="#000" >of <tspan font-style="italic">UbInPD</tspan> substrates</text>
<text x="749.3" y="547.4" text-anchor="middle" font-weight="normal" fill="#000" >E1,E2,E3</text>
<text x="748.8" y="586.8" text-anchor="middle" font-weight="normal" fill="#000" >enzymes</text>
<text x="859.3" y="220.0" text-anchor="middle" font-weight="bold" fill="#e8ae08" >polyubiquitin</text>
<text x="296.3" y="482.0" text-anchor="middle" font-weight="bold" fill="#5a42e6" >C-degron</text>
<text x="521.9" y="641.8" text-anchor="middle" font-weight="bold" fill="#0a6cc1" >Proteasome</text>
<text x="378.9" y="819.2" text-anchor="middle" font-weight="bold" fill="#b2a1c7" >Ubiquilins</text>
</g>
<path d="M268.6,406.8C272.5,404.7 277.2,410.8 281.2,412.4C285.2,414.0 288.8,415.4 292.5,416.2C296.2,417.0 299.9,417.3 303.7,417.0C307.4,416.7 311.2,415.5 315.0,414.5C318.8,413.5 322.7,411.8 326.2,411.0C329.7,410.2 333.5,409.5 336.0,409.6C338.5,409.7 339.6,410.2 341.0,411.7C342.4,413.2 343.8,416.1 344.5,418.7C345.2,421.3 345.4,424.4 345.2,427.2C345.0,430.0 344.2,433.0 343.1,435.6C342.1,438.2 340.8,440.7 338.9,442.6C337.0,444.5 334.9,445.9 331.8,446.9C328.8,447.9 325.3,448.1 320.6,448.5C315.9,448.9 309.3,449.0 303.7,449.0C298.1,449.0 292.3,448.7 286.9,448.3C281.5,447.9 276.1,447.2 271.4,446.8C266.7,446.4 261.8,446.1 258.7,445.7C255.6,445.3 254.5,446.0 253.1,444.7C251.7,443.4 249.2,441.3 250.0,438.0C250.8,434.7 254.9,430.2 258.0,425.0C261.1,419.8 264.7,408.9 268.6,406.8Z" fill="#8fcfe0"/><path d="M272.1,413.8C275.3,412.9 277.8,415.6 281.2,416.6C284.6,417.7 288.8,419.4 292.5,420.1C296.2,420.8 299.9,421.0 303.7,420.8C307.4,420.6 311.2,419.6 315.0,418.7C318.8,417.8 322.9,416.0 326.2,415.2C329.5,414.4 332.6,413.7 334.6,413.8C336.6,413.9 337.2,414.6 338.2,415.9C339.1,417.2 339.9,419.4 340.3,421.5C340.7,423.6 340.7,426.2 340.5,428.6C340.3,431.0 339.8,433.6 338.9,435.6C338.0,437.6 336.9,439.3 335.3,440.5C333.7,441.7 331.9,442.3 329.0,442.9C326.1,443.5 322.0,443.8 317.8,444.0C313.6,444.2 308.9,444.3 303.7,444.3C298.5,444.3 292.3,444.1 286.9,443.8C281.5,443.5 275.9,442.8 271.4,442.3C266.9,441.8 263.3,441.9 260.1,440.9C256.9,439.8 251.7,439.1 252.0,436.0C252.3,432.9 258.6,425.7 262.0,422.0C265.4,418.3 268.9,414.7 272.1,413.8Z" fill="#7157e8"/>
<use href="#blob" transform="translate(-674.5,-362.1)"/>
<use href="#blob" transform="translate(3.65,-362.2)"/>
<use href="#blob" transform="translate(-666.3,92.4)"/>
<use href="#blob" transform="translate(0,0)"/>
<ellipse cx="893.2" cy="318.0" rx="14.5" ry="15.3" fill="#666" opacity="0.5" filter="url(#bsh)" transform="rotate(25 890.7 315.8)"/><ellipse cx="911.3" cy="295.9" rx="14.5" ry="15.3" fill="#666" opacity="0.5" filter="url(#bsh)" transform="rotate(25 908.8 293.7)"/><ellipse cx="927.0" cy="271.59999999999997" rx="14.5" ry="15.3" fill="#666" opacity="0.5" filter="url(#bsh)" transform="rotate(25 924.5 269.4)"/><ellipse cx="946.2" cy="246.29999999999998" rx="14.5" ry="15.3" fill="#666" opacity="0.5" filter="url(#bsh)" transform="rotate(25 943.7 244.1)"/><ellipse cx="890.7" cy="315.8" rx="14.9" ry="15.8" fill="url(#bg)" transform="rotate(25 890.7 315.8)"/><ellipse cx="908.8" cy="293.7" rx="14.9" ry="15.8" fill="url(#bg)" transform="rotate(25 908.8 293.7)"/><ellipse cx="924.5" cy="269.4" rx="14.9" ry="15.8" fill="url(#bg)" transform="rotate(25 924.5 269.4)"/><ellipse cx="943.7" cy="244.1" rx="14.9" ry="15.8" fill="url(#bg)" transform="rotate(25 943.7 244.1)"/>
<clipPath id="ubqclip"><path d="M267.2,838.5C268.0,836.1 269.2,833.8 271.1,832.0C273.1,830.1 276.1,828.4 279.0,827.4C281.8,826.4 284.8,825.8 288.1,825.7C291.4,825.6 295.1,826.3 298.5,827.0C302.0,827.7 305.5,828.9 309.0,830.0C312.5,831.2 316.7,833.2 319.4,833.9C322.1,834.7 322.3,834.0 325.0,834.6C327.7,835.2 331.7,836.8 335.4,837.4C339.1,838.1 343.6,838.2 347.2,838.5C350.8,838.8 354.7,839.6 357.0,839.3C359.3,839.0 359.7,837.2 360.9,836.5C362.1,835.8 362.2,835.3 364.2,835.1C366.1,834.9 370.6,835.4 372.6,835.1C374.7,834.8 375.1,833.9 376.6,833.3C378.0,832.7 378.8,831.8 381.1,831.4C383.4,831.1 387.0,830.9 390.3,831.3C393.5,831.7 397.2,832.6 400.7,833.9C404.2,835.2 407.7,837.1 411.1,839.1C414.6,841.2 418.3,843.7 421.6,846.3C424.8,848.9 428.0,851.8 430.7,854.8C433.4,857.9 435.9,861.2 437.9,864.6C439.9,868.0 441.5,871.8 442.5,875.0C443.4,878.3 443.7,881.1 443.5,884.2C443.3,887.2 442.4,890.5 441.2,893.3C439.9,896.1 438.1,898.9 435.9,901.1C433.8,903.4 430.9,905.4 428.1,907.0C425.3,908.7 422.2,910.0 419.0,910.9C415.7,911.9 412.5,912.4 408.5,912.6C404.6,912.8 399.8,912.5 395.5,912.2C391.1,912.0 386.8,911.4 382.4,910.9C378.1,910.5 373.7,909.8 369.4,909.6C365.0,909.4 360.7,909.3 356.3,909.6C352.0,910.0 347.2,910.8 343.3,911.6C339.4,912.3 335.1,913.3 332.8,914.2C330.6,915.1 332.3,915.4 329.9,916.8C327.4,918.2 322.0,920.6 318.1,922.7C314.2,924.7 310.3,927.2 306.4,929.2C302.5,931.2 298.5,933.1 294.6,934.4C290.7,935.7 286.8,936.7 282.9,937.0C279.0,937.4 274.8,937.2 271.1,936.6C267.4,936.1 263.9,935.1 260.7,933.8C257.4,932.4 254.3,930.5 251.5,928.6C248.8,926.6 246.1,924.2 244.4,922.0C242.6,919.9 242.3,917.6 241.1,915.5C239.9,913.4 238.8,911.4 237.2,909.6C235.6,907.9 233.0,906.7 231.3,905.1C229.6,903.4 227.6,901.6 227.0,899.8C226.5,898.1 227.2,896.4 228.1,894.6C228.9,892.9 231.4,891.2 232.0,889.4C232.5,887.5 230.9,884.9 231.3,883.5C231.8,882.1 232.9,881.2 234.6,880.9C236.2,880.6 238.9,881.7 241.1,881.8C243.3,881.9 245.7,882.0 247.6,881.6C249.6,881.1 251.3,879.8 252.9,879.0C254.4,878.1 255.1,877.2 256.8,876.3C258.4,875.5 261.0,875.0 262.6,873.7C264.3,872.4 265.7,870.7 266.6,868.5C267.4,866.3 267.8,863.1 267.9,860.7C268.0,858.3 267.5,856.5 267.2,854.2C266.9,851.8 266.2,848.9 266.2,846.3C266.2,843.7 266.4,840.9 267.2,838.5Z"/></clipPath><path d="M267.2,838.5C268.0,836.1 269.2,833.8 271.1,832.0C273.1,830.1 276.1,828.4 279.0,827.4C281.8,826.4 284.8,825.8 288.1,825.7C291.4,825.6 295.1,826.3 298.5,827.0C302.0,827.7 305.5,828.9 309.0,830.0C312.5,831.2 316.7,833.2 319.4,833.9C322.1,834.7 322.3,834.0 325.0,834.6C327.7,835.2 331.7,836.8 335.4,837.4C339.1,838.1 343.6,838.2 347.2,838.5C350.8,838.8 354.7,839.6 357.0,839.3C359.3,839.0 359.7,837.2 360.9,836.5C362.1,835.8 362.2,835.3 364.2,835.1C366.1,834.9 370.6,835.4 372.6,835.1C374.7,834.8 375.1,833.9 376.6,833.3C378.0,832.7 378.8,831.8 381.1,831.4C383.4,831.1 387.0,830.9 390.3,831.3C393.5,831.7 397.2,832.6 400.7,833.9C404.2,835.2 407.7,837.1 411.1,839.1C414.6,841.2 418.3,843.7 421.6,846.3C424.8,848.9 428.0,851.8 430.7,854.8C433.4,857.9 435.9,861.2 437.9,864.6C439.9,868.0 441.5,871.8 442.5,875.0C443.4,878.3 443.7,881.1 443.5,884.2C443.3,887.2 442.4,890.5 441.2,893.3C439.9,896.1 438.1,898.9 435.9,901.1C433.8,903.4 430.9,905.4 428.1,907.0C425.3,908.7 422.2,910.0 419.0,910.9C415.7,911.9 412.5,912.4 408.5,912.6C404.6,912.8 399.8,912.5 395.5,912.2C391.1,912.0 386.8,911.4 382.4,910.9C378.1,910.5 373.7,909.8 369.4,909.6C365.0,909.4 360.7,909.3 356.3,909.6C352.0,910.0 347.2,910.8 343.3,911.6C339.4,912.3 335.1,913.3 332.8,914.2C330.6,915.1 332.3,915.4 329.9,916.8C327.4,918.2 322.0,920.6 318.1,922.7C314.2,924.7 310.3,927.2 306.4,929.2C302.5,931.2 298.5,933.1 294.6,934.4C290.7,935.7 286.8,936.7 282.9,937.0C279.0,937.4 274.8,937.2 271.1,936.6C267.4,936.1 263.9,935.1 260.7,933.8C257.4,932.4 254.3,930.5 251.5,928.6C248.8,926.6 246.1,924.2 244.4,922.0C242.6,919.9 242.3,917.6 241.1,915.5C239.9,913.4 238.8,911.4 237.2,909.6C235.6,907.9 233.0,906.7 231.3,905.1C229.6,903.4 227.6,901.6 227.0,899.8C226.5,898.1 227.2,896.4 228.1,894.6C228.9,892.9 231.4,891.2 232.0,889.4C232.5,887.5 230.9,884.9 231.3,883.5C231.8,882.1 232.9,881.2 234.6,880.9C236.2,880.6 238.9,881.7 241.1,881.8C243.3,881.9 245.7,882.0 247.6,881.6C249.6,881.1 251.3,879.8 252.9,879.0C254.4,878.1 255.1,877.2 256.8,876.3C258.4,875.5 261.0,875.0 262.6,873.7C264.3,872.4 265.7,870.7 266.6,868.5C267.4,866.3 267.8,863.1 267.9,860.7C268.0,858.3 267.5,856.5 267.2,854.2C266.9,851.8 266.2,848.9 266.2,846.3C266.2,843.7 266.4,840.9 267.2,838.5Z" fill="#e0d8ec"/><g clip-path="url(#ubqclip)"><path d="M267.2,838.5C268.0,836.1 269.2,833.8 271.1,832.0C273.1,830.1 276.1,828.4 279.0,827.4C281.8,826.4 284.8,825.8 288.1,825.7C291.4,825.6 295.1,826.3 298.5,827.0C302.0,827.7 305.5,828.9 309.0,830.0C312.5,831.2 316.7,833.2 319.4,833.9C322.1,834.7 322.3,834.0 325.0,834.6C327.7,835.2 331.7,836.8 335.4,837.4C339.1,838.1 343.6,838.2 347.2,838.5C350.8,838.8 354.7,839.6 357.0,839.3C359.3,839.0 359.7,837.2 360.9,836.5C362.1,835.8 362.2,835.3 364.2,835.1C366.1,834.9 370.6,835.4 372.6,835.1C374.7,834.8 375.1,833.9 376.6,833.3C378.0,832.7 378.8,831.8 381.1,831.4C383.4,831.1 387.0,830.9 390.3,831.3C393.5,831.7 397.2,832.6 400.7,833.9C404.2,835.2 407.7,837.1 411.1,839.1C414.6,841.2 418.3,843.7 421.6,846.3C424.8,848.9 428.0,851.8 430.7,854.8C433.4,857.9 435.9,861.2 437.9,864.6C439.9,868.0 441.5,871.8 442.5,875.0C443.4,878.3 443.7,881.1 443.5,884.2C443.3,887.2 442.4,890.5 441.2,893.3C439.9,896.1 438.1,898.9 435.9,901.1C433.8,903.4 430.9,905.4 428.1,907.0C425.3,908.7 422.2,910.0 419.0,910.9C415.7,911.9 412.5,912.4 408.5,912.6C404.6,912.8 399.8,912.5 395.5,912.2C391.1,912.0 386.8,911.4 382.4,910.9C378.1,910.5 373.7,909.8 369.4,909.6C365.0,909.4 360.7,909.3 356.3,909.6C352.0,910.0 347.2,910.8 343.3,911.6C339.4,912.3 335.1,913.3 332.8,914.2C330.6,915.1 332.3,915.4 329.9,916.8C327.4,918.2 322.0,920.6 318.1,922.7C314.2,924.7 310.3,927.2 306.4,929.2C302.5,931.2 298.5,933.1 294.6,934.4C290.7,935.7 286.8,936.7 282.9,937.0C279.0,937.4 274.8,937.2 271.1,936.6C267.4,936.1 263.9,935.1 260.7,933.8C257.4,932.4 254.3,930.5 251.5,928.6C248.8,926.6 246.1,924.2 244.4,922.0C242.6,919.9 242.3,917.6 241.1,915.5C239.9,913.4 238.8,911.4 237.2,909.6C235.6,907.9 233.0,906.7 231.3,905.1C229.6,903.4 227.6,901.6 227.0,899.8C226.5,898.1 227.2,896.4 228.1,894.6C228.9,892.9 231.4,891.2 232.0,889.4C232.5,887.5 230.9,884.9 231.3,883.5C231.8,882.1 232.9,881.2 234.6,880.9C236.2,880.6 238.9,881.7 241.1,881.8C243.3,881.9 245.7,882.0 247.6,881.6C249.6,881.1 251.3,879.8 252.9,879.0C254.4,878.1 255.1,877.2 256.8,876.3C258.4,875.5 261.0,875.0 262.6,873.7C264.3,872.4 265.7,870.7 266.6,868.5C267.4,866.3 267.8,863.1 267.9,860.7C268.0,858.3 267.5,856.5 267.2,854.2C266.9,851.8 266.2,848.9 266.2,846.3C266.2,843.7 266.4,840.9 267.2,838.5Z" fill="none" stroke="#cfc1e1" stroke-width="4.5"/><path d="M297.2,854.4C299.4,852.9 302.7,851.5 306.4,850.6C310.1,849.8 315.1,849.5 319.4,849.2C323.8,848.9 329.4,849.0 332.5,848.7C335.6,848.3 333.9,847.8 338.1,847.1C342.2,846.5 351.1,845.5 357.6,844.8C364.2,844.0 371.3,843.1 377.2,842.8C383.1,842.5 388.1,842.2 392.9,842.7C397.7,843.1 402.0,844.2 405.9,845.7C409.8,847.1 413.3,849.0 416.4,851.3C419.4,853.6 422.3,856.3 424.2,859.4C426.0,862.5 427.0,866.3 427.5,869.8C427.9,873.3 427.6,877.0 426.8,880.3C426.0,883.5 424.6,886.8 422.9,889.4C421.2,892.0 419.2,894.2 416.4,895.9C413.5,897.7 409.8,899.1 405.9,899.8C402.0,900.6 397.7,900.5 392.9,900.5C388.1,900.5 382.4,900.1 377.2,899.8C372.0,899.6 366.8,899.2 361.5,899.2C356.3,899.2 350.7,899.3 345.9,899.8C341.1,900.4 336.3,901.6 332.8,902.5C329.4,903.3 327.2,903.5 325.0,905.1C322.8,906.6 322.5,909.2 319.4,911.6C316.3,914.0 310.3,917.0 306.4,919.4C302.5,921.8 299.6,924.1 295.9,925.9C292.2,927.8 288.1,929.6 284.2,930.5C280.3,931.4 276.1,931.7 272.4,931.2C268.7,930.6 265.0,929.2 262.0,927.2C258.9,925.3 256.1,922.5 254.2,919.4C252.2,916.4 251.0,912.2 250.2,909.0C249.5,905.7 248.9,902.6 249.6,899.8C250.2,897.1 251.7,894.4 254.2,892.3C256.7,890.1 260.7,888.8 264.6,886.8C268.5,884.8 273.7,883.1 277.7,880.3C281.6,877.4 285.5,873.2 288.1,869.8C290.7,866.4 291.8,862.6 293.3,860.0C294.8,857.5 295.1,856.0 297.2,854.4Z" fill="none" stroke="#d1c5e2" stroke-width="6"/><path d="M298.5,857.4C300.9,856.4 302.9,854.5 306.4,853.5C309.8,852.5 315.1,852.0 319.4,851.5C323.8,851.0 329.4,850.9 332.5,850.5C335.6,850.1 333.9,849.8 338.1,849.2C342.2,848.5 351.1,847.3 357.6,846.6C364.2,845.8 371.3,845.1 377.2,844.8C383.1,844.5 388.3,844.5 392.9,844.8C397.4,845.0 400.7,845.7 404.6,846.3C408.5,847.0 412.7,846.9 416.4,848.7C420.1,850.4 424.0,853.2 426.8,856.8C429.6,860.3 432.0,865.9 433.3,869.8C434.7,873.7 435.2,876.6 434.9,880.3C434.6,884.0 433.5,888.7 431.8,892.0C430.0,895.3 427.0,897.5 424.5,900.1C421.9,902.7 419.5,905.5 416.4,907.7C413.3,909.8 409.8,911.8 405.9,912.9C402.0,914.0 397.7,914.2 392.9,914.2C388.1,914.2 383.1,913.2 377.2,912.9C371.3,912.6 363.7,912.0 357.6,912.2C351.5,912.5 346.1,913.0 340.7,914.2C335.2,915.4 328.8,917.5 325.0,919.4C321.2,921.4 321.2,924.2 318.1,925.9C315.0,927.7 310.3,928.7 306.4,929.9C302.5,931.1 298.5,932.4 294.6,933.1C290.7,933.9 286.6,934.3 282.9,934.4C279.2,934.5 275.9,934.4 272.4,933.8C268.9,933.1 265.3,932.3 262.0,930.5C258.7,928.8 255.1,926.1 252.9,923.3C250.6,920.6 249.3,917.5 248.3,914.2C247.3,910.9 246.9,906.8 247.0,903.8C247.1,900.7 247.7,898.1 248.9,895.9C250.1,893.7 251.5,892.4 254.2,890.7C256.8,889.0 260.7,887.4 264.6,885.5C268.5,883.5 273.8,881.8 277.7,879.0C281.5,876.1 285.0,871.8 287.4,868.5C289.8,865.3 290.2,861.2 292.0,859.4C293.9,857.5 296.1,858.4 298.5,857.4Z" fill="#ad93c8"/><path d="M428.1,858.1C428.5,857.9 432.9,863.9 434.6,867.2C436.4,870.5 438.1,874.2 438.8,877.7C439.5,881.1 439.5,884.8 438.8,888.1C438.2,891.4 436.9,894.8 434.9,897.5C432.9,900.2 430.2,902.4 427.1,904.3C424.0,906.2 420.3,907.8 416.4,909.0C412.4,910.2 408.1,911.0 403.3,911.3C398.5,911.7 388.5,911.6 387.7,911.1C386.8,910.6 393.7,909.2 398.1,908.3C402.4,907.4 409.4,907.1 413.8,905.7C418.1,904.3 421.3,902.2 424.2,899.8C427.1,897.4 429.4,894.6 431.0,891.4C432.6,888.1 433.4,884.1 433.6,880.3C433.8,876.5 433.2,872.2 432.3,868.5C431.4,864.8 427.7,858.3 428.1,858.1Z" fill="#9278b0"/><path d="M297.2,854.4C299.4,852.9 302.7,851.5 306.4,850.6C310.1,849.8 315.1,849.5 319.4,849.2C323.8,848.9 329.4,849.0 332.5,848.7C335.6,848.3 333.9,847.8 338.1,847.1C342.2,846.5 351.1,845.5 357.6,844.8C364.2,844.0 371.3,843.1 377.2,842.8C383.1,842.5 388.1,842.2 392.9,842.7C397.7,843.1 402.0,844.2 405.9,845.7C409.8,847.1 413.3,849.0 416.4,851.3C419.4,853.6 422.3,856.3 424.2,859.4C426.0,862.5 427.0,866.3 427.5,869.8C427.9,873.3 427.6,877.0 426.8,880.3C426.0,883.5 424.6,886.8 422.9,889.4C421.2,892.0 419.2,894.2 416.4,895.9C413.5,897.7 409.8,899.1 405.9,899.8C402.0,900.6 397.7,900.5 392.9,900.5C388.1,900.5 382.4,900.1 377.2,899.8C372.0,899.6 366.8,899.2 361.5,899.2C356.3,899.2 350.7,899.3 345.9,899.8C341.1,900.4 336.3,901.6 332.8,902.5C329.4,903.3 327.2,903.5 325.0,905.1C322.8,906.6 322.5,909.2 319.4,911.6C316.3,914.0 310.3,917.0 306.4,919.4C302.5,921.8 299.6,924.1 295.9,925.9C292.2,927.8 288.1,929.6 284.2,930.5C280.3,931.4 276.1,931.7 272.4,931.2C268.7,930.6 265.0,929.2 262.0,927.2C258.9,925.3 256.1,922.5 254.2,919.4C252.2,916.4 251.0,912.2 250.2,909.0C249.5,905.7 248.9,902.6 249.6,899.8C250.2,897.1 251.7,894.4 254.2,892.3C256.7,890.1 260.7,888.8 264.6,886.8C268.5,884.8 273.7,883.1 277.7,880.3C281.6,877.4 285.5,873.2 288.1,869.8C290.7,866.4 291.8,862.6 293.3,860.0C294.8,857.5 295.1,856.0 297.2,854.4Z" fill="#c4b3d5"/><path d="M276.3,858.1C277.0,853.1 276.6,848.5 277.7,845.0C278.7,841.5 280.3,839.1 282.9,837.2C285.5,835.2 289.4,833.7 293.3,833.3C297.2,832.8 302.5,833.9 306.4,834.6C310.3,835.2 317.0,836.6 316.8,837.2C316.6,837.7 308.8,837.6 305.1,837.8C301.4,838.1 297.6,837.6 294.6,838.5C291.7,839.4 289.2,840.9 287.4,843.1C285.7,845.2 284.9,848.4 284.2,851.5C283.4,854.7 283.5,858.9 282.9,862.0C282.2,865.0 281.8,867.6 280.3,869.8C278.7,872.0 274.4,877.0 273.7,875.0C273.1,873.1 275.7,863.1 276.3,858.1Z" fill="#efeaf6"/><path d="M280.9,848.9C280.9,847.0 281.7,842.9 282.9,841.1C284.1,839.3 287.7,837.9 288.1,838.2C288.5,838.6 286.3,840.6 285.5,843.1C284.7,845.5 283.9,851.9 283.1,852.9C282.4,853.8 281.0,850.9 280.9,848.9Z" fill="#ffffff"/><path d="M238.5,893.3C239.0,891.5 241.9,889.3 243.1,888.7C244.3,888.2 245.9,888.9 245.7,890.1C245.5,891.2 242.7,894.3 241.8,895.9C240.8,897.6 240.3,900.3 239.8,899.8C239.3,899.4 238.0,895.2 238.5,893.3Z" fill="#f4f0f9"/></g><path d="M267.2,838.5C268.0,836.1 269.2,833.8 271.1,832.0C273.1,830.1 276.1,828.4 279.0,827.4C281.8,826.4 284.8,825.8 288.1,825.7C291.4,825.6 295.1,826.3 298.5,827.0C302.0,827.7 305.5,828.9 309.0,830.0C312.5,831.2 316.7,833.2 319.4,833.9C322.1,834.7 322.3,834.0 325.0,834.6C327.7,835.2 331.7,836.8 335.4,837.4C339.1,838.1 343.6,838.2 347.2,838.5C350.8,838.8 354.7,839.6 357.0,839.3C359.3,839.0 359.7,837.2 360.9,836.5C362.1,835.8 362.2,835.3 364.2,835.1C366.1,834.9 370.6,835.4 372.6,835.1C374.7,834.8 375.1,833.9 376.6,833.3C378.0,832.7 378.8,831.8 381.1,831.4C383.4,831.1 387.0,830.9 390.3,831.3C393.5,831.7 397.2,832.6 400.7,833.9C404.2,835.2 407.7,837.1 411.1,839.1C414.6,841.2 418.3,843.7 421.6,846.3C424.8,848.9 428.0,851.8 430.7,854.8C433.4,857.9 435.9,861.2 437.9,864.6C439.9,868.0 441.5,871.8 442.5,875.0C443.4,878.3 443.7,881.1 443.5,884.2C443.3,887.2 442.4,890.5 441.2,893.3C439.9,896.1 438.1,898.9 435.9,901.1C433.8,903.4 430.9,905.4 428.1,907.0C425.3,908.7 422.2,910.0 419.0,910.9C415.7,911.9 412.5,912.4 408.5,912.6C404.6,912.8 399.8,912.5 395.5,912.2C391.1,912.0 386.8,911.4 382.4,910.9C378.1,910.5 373.7,909.8 369.4,909.6C365.0,909.4 360.7,909.3 356.3,909.6C352.0,910.0 347.2,910.8 343.3,911.6C339.4,912.3 335.1,913.3 332.8,914.2C330.6,915.1 332.3,915.4 329.9,916.8C327.4,918.2 322.0,920.6 318.1,922.7C314.2,924.7 310.3,927.2 306.4,929.2C302.5,931.2 298.5,933.1 294.6,934.4C290.7,935.7 286.8,936.7 282.9,937.0C279.0,937.4 274.8,937.2 271.1,936.6C267.4,936.1 263.9,935.1 260.7,933.8C257.4,932.4 254.3,930.5 251.5,928.6C248.8,926.6 246.1,924.2 244.4,922.0C242.6,919.9 242.3,917.6 241.1,915.5C239.9,913.4 238.8,911.4 237.2,909.6C235.6,907.9 233.0,906.7 231.3,905.1C229.6,903.4 227.6,901.6 227.0,899.8C226.5,898.1 227.2,896.4 228.1,894.6C228.9,892.9 231.4,891.2 232.0,889.4C232.5,887.5 230.9,884.9 231.3,883.5C231.8,882.1 232.9,881.2 234.6,880.9C236.2,880.6 238.9,881.7 241.1,881.8C243.3,881.9 245.7,882.0 247.6,881.6C249.6,881.1 251.3,879.8 252.9,879.0C254.4,878.1 255.1,877.2 256.8,876.3C258.4,875.5 261.0,875.0 262.6,873.7C264.3,872.4 265.7,870.7 266.6,868.5C267.4,866.3 267.8,863.1 267.9,860.7C268.0,858.3 267.5,856.5 267.2,854.2C266.9,851.8 266.2,848.9 266.2,846.3C266.2,843.7 266.4,840.9 267.2,838.5Z" fill="none" stroke="#0c0a10" stroke-width="2.5" stroke-linejoin="round"/>
<g><circle cx="445.7" cy="520.5" r="20.9" fill="#62b4d6" stroke="#2a8db5" stroke-width="1.9"/><circle cx="555.3" cy="520.5" r="20.9" fill="#62b4d6" stroke="#2a8db5" stroke-width="1.9"/><circle cx="553.3" cy="546.9" r="20.9" fill="#62b4d6" stroke="#2a8db5" stroke-width="1.9"/><circle cx="467.5" cy="533.3" r="20.9" fill="#62b4d6" stroke="#2a8db5" stroke-width="1.9"/><circle cx="533.6" cy="533.3" r="20.9" fill="#62b4d6" stroke="#2a8db5" stroke-width="1.9"/><circle cx="540.1" cy="568.8" r="20.9" fill="#62b4d6" stroke="#2a8db5" stroke-width="1.9"/><circle cx="520.0" cy="586.2" r="20.9" fill="#62b4d6" stroke="#2a8db5" stroke-width="1.9"/><circle cx="500.3" cy="540.1" r="20.9" fill="#62b4d6" stroke="#2a8db5" stroke-width="1.9"/><circle cx="445.7" cy="488.9" r="20.9" fill="#6b87c1" stroke="#2b4ea0" stroke-width="1.9"/><circle cx="555.3" cy="488.9" r="20.9" fill="#6b87c1" stroke="#2b4ea0" stroke-width="1.9"/><circle cx="467.5" cy="503.8" r="20.9" fill="#6b87c1" stroke="#2b4ea0" stroke-width="1.9"/><circle cx="533.6" cy="503.8" r="20.9" fill="#6b87c1" stroke="#2b4ea0" stroke-width="1.9"/><circle cx="500.3" cy="511.6" r="20.9" fill="#6b87c1" stroke="#2b4ea0" stroke-width="1.9"/><circle cx="445.7" cy="455.6" r="20.9" fill="#78c883" stroke="#4ea765" stroke-width="1.9"/><circle cx="555.3" cy="455.6" r="20.9" fill="#78c883" stroke="#4ea765" stroke-width="1.9"/><circle cx="467.5" cy="467.6" r="20.9" fill="#78c883" stroke="#4ea765" stroke-width="1.9"/><circle cx="533.6" cy="467.6" r="20.9" fill="#78c883" stroke="#4ea765" stroke-width="1.9"/><circle cx="500.3" cy="478.7" r="20.9" fill="#78c883" stroke="#4ea765" stroke-width="1.9"/><circle cx="445.7" cy="421.9" r="20.9" fill="#78c883" stroke="#4ea765" stroke-width="1.9"/><circle cx="555.3" cy="421.9" r="20.9" fill="#78c883" stroke="#4ea765" stroke-width="1.9"/><circle cx="467.5" cy="433.0" r="20.9" fill="#78c883" stroke="#4ea765" stroke-width="1.9"/><circle cx="533.6" cy="433.0" r="20.9" fill="#78c883" stroke="#4ea765" stroke-width="1.9"/><circle cx="500.3" cy="444.0" r="20.9" fill="#78c883" stroke="#4ea765" stroke-width="1.9"/><circle cx="445.7" cy="388.6" r="20.9" fill="#6b87c1" stroke="#2b4ea0" stroke-width="1.9"/><circle cx="555.3" cy="388.6" r="20.9" fill="#6b87c1" stroke="#2b4ea0" stroke-width="1.9"/><circle cx="467.5" cy="402.3" r="20.9" fill="#6b87c1" stroke="#2b4ea0" stroke-width="1.9"/><circle cx="533.6" cy="402.3" r="20.9" fill="#6b87c1" stroke="#2b4ea0" stroke-width="1.9"/><circle cx="500.3" cy="409.6" r="20.9" fill="#6b87c1" stroke="#2b4ea0" stroke-width="1.9"/><circle cx="482.4" cy="348.1" r="20.9" fill="#62b4d6" stroke="#2a8db5" stroke-width="1.9"/><circle cx="520.8" cy="347.6" r="20.9" fill="#62b4d6" stroke="#2a8db5" stroke-width="1.9"/><circle cx="449.1" cy="326.0" r="20.9" fill="#62b4d6" stroke="#2a8db5" stroke-width="1.9"/><circle cx="445.7" cy="357.0" r="20.9" fill="#62b4d6" stroke="#2a8db5" stroke-width="1.9"/><circle cx="555.3" cy="357.0" r="20.9" fill="#62b4d6" stroke="#2a8db5" stroke-width="1.9"/><circle cx="467.5" cy="369.8" r="20.9" fill="#62b4d6" stroke="#2a8db5" stroke-width="1.9"/><circle cx="533.6" cy="369.8" r="20.9" fill="#62b4d6" stroke="#2a8db5" stroke-width="1.9"/><circle cx="500.3" cy="376.0" r="20.9" fill="#62b4d6" stroke="#2a8db5" stroke-width="1.9"/><circle cx="458.7" cy="301.2" r="20.9" fill="#62b4d6" stroke="#2a8db5" stroke-width="1.9"/><circle cx="481.6" cy="284.1" r="20.9" fill="#62b4d6" stroke="#2a8db5" stroke-width="1.9"/></g>
<path d="M291.0,386.3L398.9,386.3" stroke="#1f4a82" stroke-width="4.5" fill="none"/><path d="M382.7,396.3L398.9,386.3L382.7,376.3" stroke="#1f4a82" stroke-width="4.5" fill="none" stroke-linecap="round" stroke-linejoin="miter" stroke-miterlimit="10"/>
<path d="M702.0,386.3L602.4,386.3" stroke="#1f4a82" stroke-width="4.5" fill="none"/><path d="M618.6,376.3L602.4,386.3L618.6,396.3" stroke="#1f4a82" stroke-width="4.5" fill="none" stroke-linecap="round" stroke-linejoin="miter" stroke-miterlimit="10"/>
<path d="M831.5,630.2L831.5,457.0" stroke="#1f4a82" stroke-width="4.5" fill="none"/><path d="M841.5,473.2L831.5,457.0L821.5,473.2" stroke="#1f4a82" stroke-width="4.5" fill="none" stroke-linecap="round" stroke-linejoin="miter" stroke-miterlimit="10"/>
<path d="M279.1,763.4L427.3,576.2" stroke="#1f4a82" stroke-width="4.5" fill="none"/><path d="M425.0,595.1L427.3,576.2L409.4,582.7" stroke="#1f4a82" stroke-width="4.5" fill="none" stroke-linecap="round" stroke-linejoin="miter" stroke-miterlimit="10"/>
</svg></body></html>
